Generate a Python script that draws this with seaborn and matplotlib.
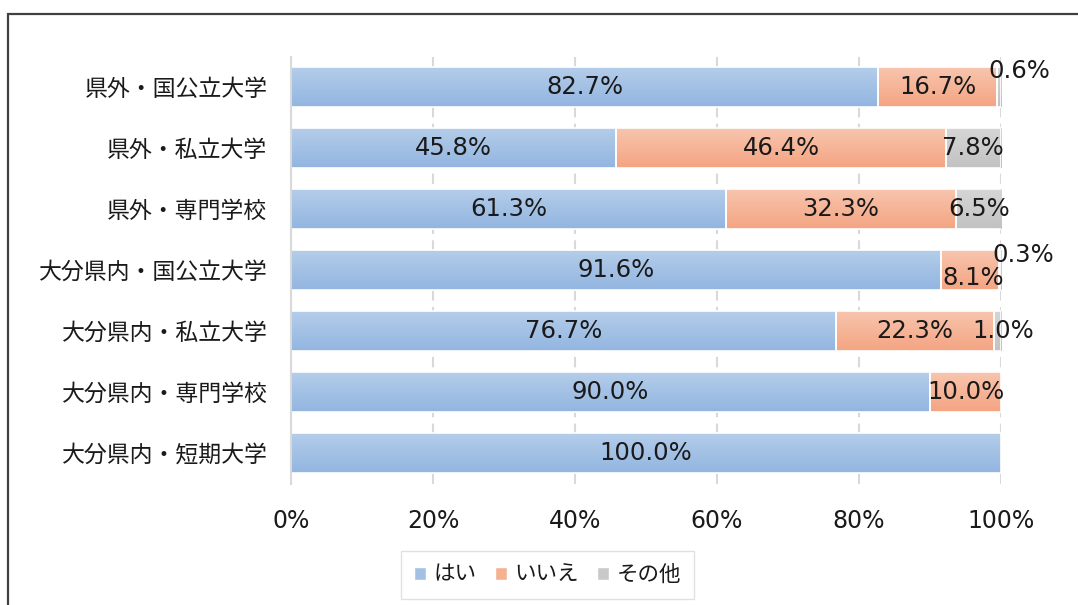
import matplotlib.pyplot as plt
import matplotlib.colors as mcolors
from matplotlib.patches import Patch, Rectangle
import numpy as np
import pandas as pd
import seaborn as sns

# data
categories = ["県外・国公立大学", "県外・私立大学", "県外・専門学校", "大分県内・国公立大学",
              "大分県内・私立大学", "大分県内・専門学校", "大分県内・短期大学"]
yes = [82.7, 45.8, 61.3, 91.6, 76.7, 90.0, 100.0]
no = [16.7, 46.4, 32.3, 8.1, 22.3, 10.0, 0.0]
other = [0.6, 7.8, 6.5, 0.3, 1.0, 0.0, 0.0]
series_names = ["はい", "いいえ", "その他"]
xticks = [0, 20, 40, 60, 80, 100]

# colours (gradient top -> bottom, like the Excel fill)
top_colors = ["#b4cdea", "#f8c5ae", "#d6d6d6"]
bottom_colors = ["#92b5e0", "#f4a482", "#c2c2c2"]
legend_colors = ["#a3c0e5", "#f5b191", "#c9c9c9"]

# small label nudges (points) for the labels Excel moved around
label_offsets = {(0, 2): (15, 11.5), (3, 2): (17, 11), (3, 1): (2, -6), (4, 2): (4, 0)}

sns.set_style("white")
plt.rcParams["font.family"] = ["DejaVu Sans", "Noto Sans CJK JP"]
cjk = ["Noto Sans CJK JP", "DejaVu Sans"]

df = pd.DataFrame({"category": categories, "はい": yes, "いいえ": no, "その他": other})

fig, ax = plt.subplots(figsize=(10.78, 6.05), dpi=100)
fig.subplots_adjust(left=0.270, right=0.9286, top=0.9066, bottom=0.2008)

lefts = np.zeros(len(categories))
for i, name in enumerate(series_names):
    sns.barplot(data=df, x=name, y="category", left=lefts.copy(), color=bottom_colors[i],
                saturation=1, width=0.65, edgecolor="white", linewidth=1.2, ax=ax, zorder=2)
    lefts += df[name].values

# gradient fill for every bar segment
grad = np.linspace(0, 1, 64)[:, None, None]
for k, patch in enumerate(list(ax.patches)):
    s = k // len(categories)
    x0, y0 = patch.get_x(), patch.get_y()
    w, h = patch.get_width(), patch.get_height()
    if w <= 0:
        patch.set_visible(False)
        continue
    c_top = np.array(mcolors.to_rgb(top_colors[s]))
    c_bot = np.array(mcolors.to_rgb(bottom_colors[s]))
    img = c_top * (1 - grad) + c_bot * grad
    ax.imshow(img, extent=(x0, x0 + w, y0 + h, y0), origin="upper", aspect="auto",
              interpolation="bilinear", zorder=2)
    patch.set_facecolor("none")
    patch.set_zorder(2.5)

ax.set_xlim(0, 100)
ax.set_ylim(len(categories) - 0.5, -0.5)

# value labels
series = [yes, no, other]
for r in range(len(categories)):
    start = 0.0
    for s, vals in enumerate(series):
        v = vals[r]
        if v > 0:
            dx, dy = label_offsets.get((r, s), (0, 0))
            ax.annotate(f"{v:.1f}%", (start + v / 2, r), xytext=(dx, dy), textcoords="offset points",
                        ha="center", va="center", fontsize=17.5, color="#1a1a1a", zorder=4)
        start += v

# axes styling
ax.set_xlabel("")
ax.set_ylabel("")
ax.set_axisbelow(True)
ax.xaxis.grid(True, color="#d9d9d9", linestyle=(0, (5, 3)), linewidth=1.5)
ax.yaxis.grid(False)
for side in ["top", "right", "bottom"]:
    ax.spines[side].set_visible(False)
ax.spines["left"].set_color("#d9d9d9")
ax.spines["left"].set_linewidth(1.5)
ax.set_xticks(xticks)
ax.set_xticklabels([f"{v}%" for v in xticks])
ax.tick_params(axis="x", length=0, pad=18, labelsize=17, labelcolor="#1a1a1a")
ax.tick_params(axis="y", length=0, pad=17, labelsize=16.5, labelcolor="#1a1a1a")
for t in ax.get_yticklabels():
    t.set_fontfamily(cjk)

# legend
handles = [Patch(facecolor=c) for c in legend_colors]
leg = fig.legend(handles, series_names, loc="center", bbox_to_anchor=(0.508, 0.05), ncol=3,
                 frameon=True, fancybox=False, edgecolor="#d9d9d9",
                 prop={"family": cjk, "size": 15.5}, handlelength=0.55, handleheight=0.55,
                 handletextpad=0.35, columnspacing=0.85, borderpad=0.6)
leg.get_frame().set_linewidth(1)
for t in leg.get_texts():
    t.set_color("#1a1a1a")

# outer chart border (runs off the right/bottom edge in the reference)
fig.add_artist(Rectangle((8 / 1078, -0.1), 1.2, 1 - 14 / 605 + 0.1, transform=fig.transFigure,
                         fill=False, edgecolor="#404040", linewidth=1.6))

fig.savefig("out.png", dpi=100)
